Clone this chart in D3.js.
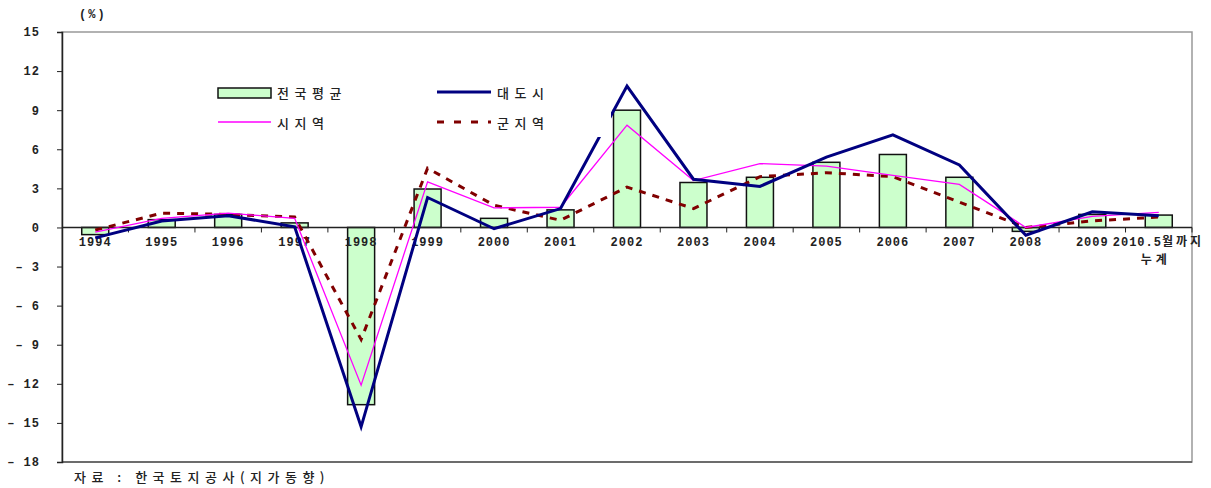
<!DOCTYPE html>
<html>
<head>
<meta charset="utf-8">
<script src="https://cdnjs.cloudflare.com/ajax/libs/d3/7.8.5/d3.min.js"></script>
<style>
body { margin: 0; background: #fff; }
text { font-family: "Noto Sans CJK KR", "DejaVu Sans", sans-serif; fill: #222; }
.num { font-family: "Liberation Mono", monospace; font-weight: bold; font-size: 12px; letter-spacing: 1px; }
</style>
</head>
<body>
<div id="chart"></div>
<script>
// 연도별 지가 변동률 (%)
var years = ["1994","1995","1996","1997","1998","1999","2000","2001","2002","2003","2004","2005","2006","2007","2008","2009","2010.5"];
var national = [-0.55, 0.6, 1.0, 0.35, -13.6, 2.95, 0.7, 1.35, 9.0, 3.45, 3.85, 5.0, 5.6, 3.85, -0.3, 1.0, 0.95];
var metro    = [-0.8, 0.5, 0.9, 0.05, -15.3, 2.3, -0.1, 1.45, 10.85, 3.7, 3.15, 5.4, 7.1, 4.8, -0.6, 1.2, 0.9];
var city     = [-0.35, 0.7, 1.1, 0.7, -12.1, 3.5, 1.5, 1.55, 7.85, 3.6, 4.9, 4.7, 4.0, 3.3, 0.0, 0.85, 1.15];
var county   = [-0.2, 1.1, 1.0, 0.8, -8.6, 4.55, 1.7, 0.55, 3.1, 1.45, 3.9, 4.2, 3.9, 1.95, 0.0, 0.5, 0.8];
var yTicks = [-18, -15, -12, -9, -6, -3, 0, 3, 6, 9, 12, 15];

var svg = d3.select("#chart").append("svg")
	.attr("width", 1211)
	.attr("height", 488);

var x = d3.scaleBand()
	.domain(years)
	.range([62, 1192]);
var y = d3.scaleLinear()
	.domain([-18, 15])
	.range([462, 32]);
var cx = function(i) { return x(years[i]) + x.bandwidth() / 2; };

// 테두리
svg.append("rect")
	.attr("x", 62).attr("y", 32)
	.attr("width", 1130).attr("height", 430)
	.attr("fill", "none")
	.attr("stroke", "#999")
	.attr("stroke-width", 1.5);
svg.append("line")
	.attr("x1", 62).attr("x2", 1192)
	.attr("y1", 462).attr("y2", 462)
	.attr("stroke", "#555").attr("stroke-width", 1.5);

// y축
var yAxis = svg.append("g")
	.attr("transform", "translate(62,0)")
	.call(d3.axisLeft(y).tickValues(yTicks).tickSize(5).tickPadding(17)
		.tickFormat(function(d) { return d < 0 ? "\u2013 " + Math.abs(d) : d; }));
yAxis.select(".domain").attr("stroke", "#222").attr("stroke-width", 1.5);
yAxis.selectAll(".tick line").attr("stroke", "#222");
yAxis.selectAll("text").attr("class", "num").attr("fill", "#222");

// 막대 (전국평균)
var barW = 27;
svg.selectAll("rect.bar")
	.data(national)
	.enter()
	.append("rect")
	.attr("class", "bar")
	.attr("x", function(d, i) { return cx(i) - barW / 2; })
	.attr("y", function(d) { return y(Math.max(0, d)); })
	.attr("width", barW)
	.attr("height", function(d) { return Math.abs(y(d) - y(0)); })
	.attr("fill", "#ccffcc")
	.attr("stroke", "#111")
	.attr("stroke-width", 1.5);

// x축 (0선)
var xAxis = svg.append("g")
	.attr("transform", "translate(0," + y(0) + ")");
xAxis.append("line")
	.attr("x1", 62).attr("x2", 1192)
	.attr("stroke", "#222").attr("stroke-width", 1.5);
xAxis.selectAll("line.tk")
	.data(d3.range(1, years.length + 1))
	.enter()
	.append("line")
	.attr("class", "tk")
	.attr("x1", function(i) { return 62 + i * x.bandwidth(); })
	.attr("x2", function(i) { return 62 + i * x.bandwidth(); })
	.attr("y1", 0).attr("y2", 5)
	.attr("stroke", "#222");
xAxis.selectAll("text.num")
	.data(years.slice(0, 16))
	.enter()
	.append("text")
	.attr("class", "num")
	.attr("x", function(d, i) { return cx(i); })
	.attr("y", 19)
	.attr("text-anchor", "middle")
	.text(function(d) { return d; });
var last = xAxis.append("text")
	.attr("x", cx(16) - 46)
	.attr("y", 19);
last.append("tspan").attr("class", "num").text("2010.5");
last.append("tspan")
	.style("font-size", "12px")
	.style("font-weight", "bold")
	.style("letter-spacing", "3px")
	.text("월까지");
xAxis.append("text")
	.attr("x", cx(16) - 3)
	.attr("y", 37)
	.attr("text-anchor", "middle")
	.style("font-size", "12px")
	.style("font-weight", "bold")
	.style("letter-spacing", "4px")
	.text("누계");

// 선
var line = function(arr) {
	return d3.line()
		.x(function(d, i) { return cx(i); })
		.y(function(d) { return y(d); })(arr);
};
svg.append("path").attr("d", line(county))
	.attr("fill", "none").attr("stroke", "#800000")
	.attr("stroke-width", 3).attr("stroke-dasharray", "7,7");
svg.append("path").attr("d", line(city))
	.attr("fill", "none").attr("stroke", "#ff00ff")
	.attr("stroke-width", 1.3);
svg.append("path").attr("d", line(metro))
	.attr("fill", "none").attr("stroke", "#000080")
	.attr("stroke-width", 3);

// 범례
var legend = svg.append("g");
legend.append("rect")
	.attr("x", 205).attr("y", 74)
	.attr("width", 406).attr("height", 63)
	.attr("fill", "#fff");
legend.append("rect")
	.attr("x", 218).attr("y", 88)
	.attr("width", 53).attr("height", 10)
	.attr("fill", "#ccffcc").attr("stroke", "#111").attr("stroke-width", 1.5);
legend.append("line")
	.attr("x1", 218).attr("x2", 271).attr("y1", 122).attr("y2", 122)
	.attr("stroke", "#ff00ff").attr("stroke-width", 1.3);
legend.append("line")
	.attr("x1", 437).attr("x2", 491).attr("y1", 92).attr("y2", 92)
	.attr("stroke", "#000080").attr("stroke-width", 3);
legend.append("line")
	.attr("x1", 437).attr("x2", 491).attr("y1", 122).attr("y2", 122)
	.attr("stroke", "#800000").attr("stroke-width", 3).attr("stroke-dasharray", "7,10");
var legendText = [
	{t: "전국평균", x: 277, y: 98},
	{t: "시지역", x: 277, y: 128},
	{t: "대도시", x: 497, y: 98},
	{t: "군지역", x: 497, y: 128}
];
legend.selectAll("text")
	.data(legendText)
	.enter()
	.append("text")
	.attr("x", function(d) { return d.x; })
	.attr("y", function(d) { return d.y; })
	.style("font-size", "13px")
	.style("font-weight", "500")
	.style("letter-spacing", "5.5px")
	.text(function(d) { return d.t; });

// 단위, 자료
svg.append("text")
	.attr("x", 79).attr("y", 18)
	.attr("class", "num")
	.style("letter-spacing", "2px")
	.text("(%)");
svg.append("text")
	.attr("x", 74).attr("y", 482)
	.style("font-size", "13px")
	.style("font-weight", "500")
	.style("letter-spacing", "5.5px")
	.text("자료 : 한국토지공사(지가동향)");
</script>
</body>
</html>
